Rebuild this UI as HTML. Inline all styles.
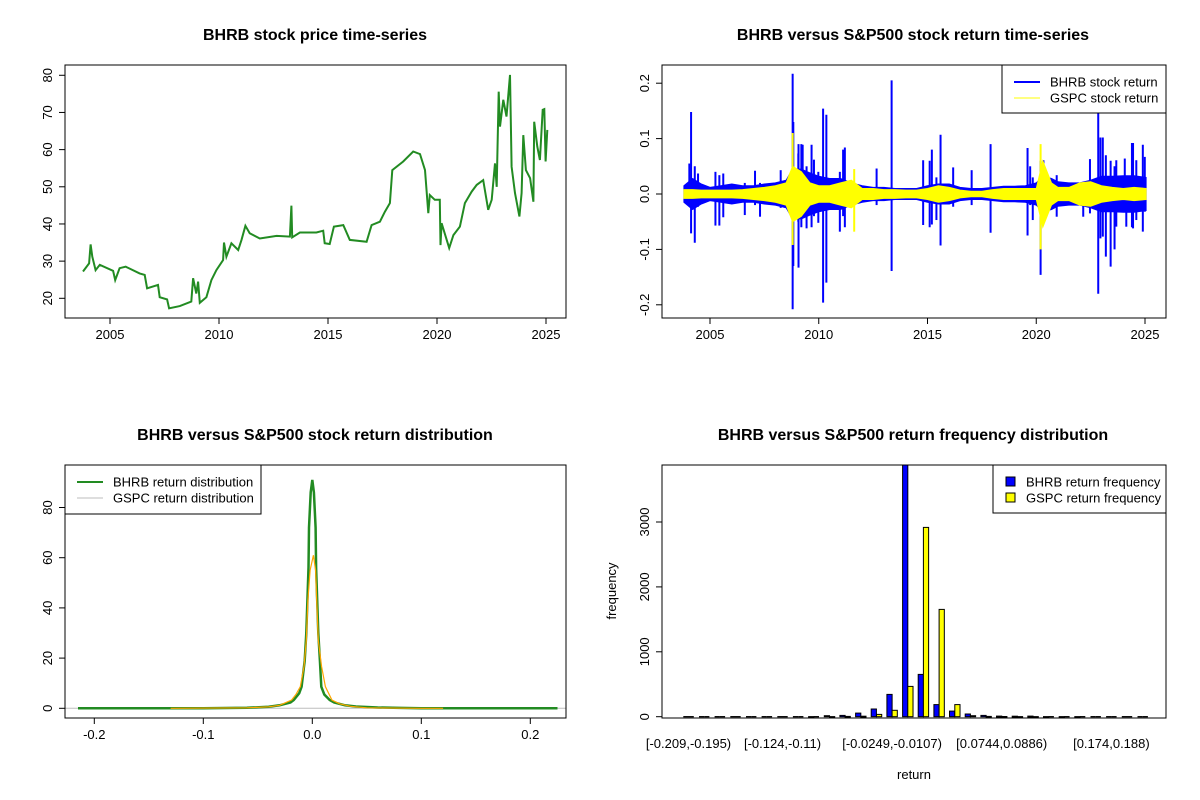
<!DOCTYPE html>
<html><head><meta charset="utf-8"><style>
html,body{margin:0;padding:0;background:#fff;}
svg{display:block;font-family:"Liberation Sans",Arial,sans-serif;}
.t{font-size:13px;fill:#000;}
.title{font-size:16px;font-weight:bold;fill:#000;}
</style></head><body>
<svg id="root" width="1200" height="800" viewBox="0 0 1200 800">
<g id="p1"></g>
<g id="p2"></g>
<g id="p3"></g>
<g id="p4"></g>
</svg>
<script>
// ---------- Panel 1 data: BHRB price ----------
const priceYears=[2003.76,2004.04,2004.11,2004.19,2004.34,2004.53,2005.14,2005.24,2005.44,2005.72,2006.36,2006.59,2006.70,2007.20,2007.28,2007.62,2007.71,2008.20,2008.73,2008.81,2008.96,2009.04,2009.12,2009.42,2009.65,2009.88,2010.19,2010.23,2010.34,2010.57,2010.88,2011.03,2011.21,2011.41,2011.87,2012.64,2013.25,2013.32,2013.36,2013.71,2014.47,2014.78,2014.85,2015.08,2015.27,2015.70,2016.00,2016.77,2017.00,2017.38,2017.61,2017.84,2017.95,2018.45,2018.91,2019.22,2019.45,2019.60,2019.67,2019.90,2020.13,2020.16,2020.21,2020.56,2020.75,2021.05,2021.28,2021.59,2021.82,2022.12,2022.35,2022.51,2022.66,2022.74,2022.83,2022.89,2023.04,2023.19,2023.35,2023.42,2023.58,2023.78,2023.88,2023.96,2024.08,2024.27,2024.42,2024.46,2024.60,2024.72,2024.85,2024.92,2024.98,2025.06];
const priceValues=[27.2,29.4,34.5,31.2,27.6,29,27.4,24.9,28.1,28.5,26.7,26.3,22.7,23.6,20.3,19.7,17.3,17.9,19.1,25.4,21.3,24.5,18.8,20.3,24.9,27.6,30.3,35,31.2,34.8,33,35.7,39.5,37.5,36.1,36.8,36.6,44.9,36.4,37.7,37.7,38.2,34.8,34.6,39.3,39.7,35.7,35.2,39.7,40.6,43.3,45.6,54.5,56.8,59.5,58.8,54.5,42.9,47.8,46.5,46.5,34.3,40.2,33.5,37,39.3,45.6,48.7,50.5,51.8,43.8,46.5,56.3,50,75.6,66.2,73.4,68.9,80.1,55.4,48.3,42,48.3,63.9,54.5,52.3,46,67.5,60.8,57.2,70.7,70.9,56.8,65.3];
const yearTicks=[2005,2010,2015,2020,2025];
const priceTicks=[20,30,40,50,60,70,80];

// ---------- Panel 2 data: returns ----------
const retYears=[2003.8,2004.2,2004.6,2005,2005.5,2006,2006.5,2007,2007.5,2008,2008.5,2008.8,2009.2,2009.6,2010,2010.5,2011,2011.5,2012,2012.5,2013,2013.5,2014,2014.5,2015,2015.5,2016,2016.5,2017,2017.5,2018,2018.5,2019,2019.5,2020,2020.3,2020.7,2021,2021.5,2022,2022.5,2023,2023.5,2024,2024.5,2025.05];
const blueHi=[0.015,0.028,0.018,0.012,0.015,0.018,0.015,0.015,0.018,0.02,0.025,0.045,0.045,0.038,0.032,0.028,0.028,0.02,0.015,0.012,0.012,0.01,0.01,0.01,0.015,0.018,0.018,0.012,0.01,0.01,0.012,0.014,0.014,0.015,0.02,0.032,0.028,0.022,0.02,0.02,0.025,0.032,0.032,0.033,0.033,0.03];
const blueLo=[-0.015,-0.028,-0.018,-0.012,-0.015,-0.018,-0.015,-0.015,-0.018,-0.02,-0.025,-0.045,-0.045,-0.038,-0.032,-0.028,-0.028,-0.02,-0.015,-0.012,-0.012,-0.01,-0.01,-0.01,-0.015,-0.018,-0.018,-0.012,-0.01,-0.01,-0.012,-0.014,-0.014,-0.015,-0.02,-0.032,-0.028,-0.022,-0.02,-0.02,-0.025,-0.032,-0.032,-0.033,-0.033,-0.03];
const yelHi=[0.008,0.008,0.007,0.007,0.007,0.007,0.008,0.01,0.012,0.015,0.02,0.05,0.04,0.02,0.015,0.015,0.02,0.025,0.01,0.01,0.008,0.008,0.007,0.007,0.01,0.015,0.012,0.007,0.005,0.005,0.008,0.01,0.01,0.01,0.01,0.06,0.02,0.012,0.012,0.02,0.022,0.015,0.012,0.01,0.012,0.01];
const yelLo=[-0.008,-0.008,-0.007,-0.007,-0.007,-0.007,-0.008,-0.01,-0.012,-0.015,-0.02,-0.05,-0.04,-0.02,-0.015,-0.015,-0.02,-0.025,-0.01,-0.01,-0.008,-0.008,-0.007,-0.007,-0.01,-0.015,-0.012,-0.007,-0.005,-0.005,-0.008,-0.01,-0.01,-0.01,-0.01,-0.06,-0.02,-0.012,-0.012,-0.02,-0.022,-0.015,-0.012,-0.01,-0.012,-0.01];
const spikeYears=[2004.13,2004.3,2005.25,2008.80,2008.83,2009.07,2009.2,2010.2,2010.35,2011.2,2013.35,2015.1,2015.2,2015.6,2017.9,2019.6,2020.2,2022.85,2022.95,2023.2,2023.42,2023.6,2024.4,2024.9,
2004.05,2004.45,2005.43,2005.61,2006.6,2007.07,2007.3,2008.25,2009.06,2009.26,2009.44,2009.67,2009.78,2009.98,2010.97,2011.12,2012.66,2014.8,2015.41,2016.18,2017.03,2019.72,2019.84,2020.33,2020.94,2022.16,2022.47,2023.06,2023.68,2024.07,2024.14,2024.45,2024.6,2024.99];
const spikeHi=[0.148,0.05,0.04,0.217,0.13,0.09,0.09,0.154,0.143,0.084,0.205,0.06,0.08,0.107,0.09,0.083,0.06,0.146,0.102,0.07,0.06,0.05,0.092,0.089,
0.055,0.037,0.034,0.037,0.02,0.042,0.02,0.043,0.073,0.089,0.05,0.089,0.062,0.04,0.04,0.08,0.046,0.061,0.03,0.048,0.043,0.05,0.03,0.061,0.034,0.02,0.063,0.102,0.061,0.064,0.03,0.092,0.061,0.067];
const spikeLo=[-0.071,-0.088,-0.057,-0.208,-0.13,-0.133,-0.06,-0.196,-0.16,-0.06,-0.139,-0.06,-0.055,-0.093,-0.07,-0.075,-0.146,-0.18,-0.08,-0.113,-0.131,-0.1,-0.06,-0.068,
-0.02,-0.023,-0.057,-0.042,-0.038,-0.02,-0.041,-0.025,-0.05,-0.04,-0.062,-0.06,-0.04,-0.052,-0.068,-0.04,-0.02,-0.056,-0.047,-0.023,-0.02,-0.02,-0.047,-0.041,-0.041,-0.041,-0.035,-0.077,-0.059,-0.03,-0.059,-0.062,-0.047,-0.032];
const ySpikeYears=[2008.8,2011.63,2020.2];
const ySpikeHi=[0.11,0.045,0.09];
const ySpikeLo=[-0.092,-0.068,-0.1];
const retTicks=[-0.2,-0.1,0.0,0.1,0.2];

// ---------- Panel 3 data: densities ----------
const bhrbDensX=[-0.215,-0.1,-0.06,-0.04,-0.03,-0.02,-0.017,-0.012,-0.0098,-0.007,-0.0055,-0.0035,-0.003,-0.0015,0,0.0015,0.003,0.0035,0.0055,0.007,0.0083,0.011,0.016,0.02,0.03,0.04,0.06,0.08,0.1,0.225];
const bhrbDensY=[0,0,0.2,0.6,1.2,2.3,3.3,6,8.6,19,30,56,72,86,91,86,72,56,30,19,8.6,5.5,3.3,2.3,1.2,0.7,0.3,0.15,0,0];
const gspcDensX=[-0.13,-0.06,-0.04,-0.03,-0.019,-0.015,-0.011,-0.0076,-0.0055,-0.004,-0.002,0.001,0.003,0.004,0.0055,0.0085,0.012,0.018,0.025,0.035,0.05,0.1,0.12];
const gspcDensY=[0,0.2,0.6,1.2,3.3,5.5,8.6,16.6,27,43,55,61,55,43,27,16.6,8.6,3.3,1.8,0.8,0.2,0,0];
const densXTicks=[-0.2,-0.1,0.0,0.1,0.2];
const densYTicks=[0,20,40,60,80];

// ---------- Panel 4 data: histogram ----------
const binLabels=["[-0.209,-0.195)","[-0.124,-0.11)","[-0.0249,-0.0107)","[0.0744,0.0886)","[0.174,0.188)"];
const binLabelIdx=[0,6,13,20,27];
const bhrbFreq=[0,0,0,0,0,0,0,0,2,15,20,56,118,344,3950,652,186,87,41,20,10,8,10,2,1,1,0,0,0,0];
const gspcFreq=[0,0,0,0,0,0,0,0,0,1,5,8,36,98,467,2917,1654,186,15,5,3,2,1,0,0,0,0,0,0,0];
const freqTicks=[0,1000,2000,3000];

const NS="http://www.w3.org/2000/svg";
function mk(parent,tag,attrs,text){const e=document.createElementNS(NS,tag);for(const k in attrs)e.setAttribute(k,attrs[k]);if(text!==undefined)e.textContent=text;parent.appendChild(e);return e;}
function box(g,x0,y0,x1,y1){const r=mk(g,'rect',{x:x0,y:y0,width:x1-x0,height:y1-y0,fill:'none',stroke:'#000','stroke-width':1});}
function xAxis(g,ticks,sx,yb,fmt){ticks.forEach(t=>{const x=sx(t);const l=mk(g,'line',{x1:x,x2:x,y1:yb,y2:yb+6,stroke:'#000'});const tx=mk(g,'text',{x:x,y:yb+21,'text-anchor':'middle',class:'t'},fmt?fmt(t):t);});const a=mk(g,'line',{x1:sx(ticks[0]),x2:sx(ticks[ticks.length-1]),y1:yb,y2:yb,stroke:'#000'});}
function yAxis(g,ticks,sy,xl,fmt){ticks.forEach(t=>{const y=sy(t);const l=mk(g,'line',{x1:xl-6,x2:xl,y1:y,y2:y,stroke:'#000'});const tx=mk(g,'text',{x:xl-13,y:y,'text-anchor':'middle',class:'t',transform:`rotate(-90 ${xl-13} ${y})`},fmt?fmt(t):t);});const a=mk(g,'line',{x1:xl,x2:xl,y1:sy(ticks[0]),y2:sy(ticks[ticks.length-1]),stroke:'#000'});}
function title(g,x,y,s){const t=mk(g,'text',{x:x,y:y,'text-anchor':'middle',class:'title'},s);}
function clip(id,x0,y0,x1,y1){const root=document.getElementById('root');const c=mk(root,'clipPath',{id:id});mk(c,'rect',{x:x0,y:y0,width:x1-x0,height:y1-y0});}

// ---- Panel 1
(function(){const g=document.getElementById('p1');
const sx=v=>110+(v-2005)*21.8, sy=v=>298.3-(v-20)*3.717;
title(g,315,40,'BHRB stock price time-series');
const pts=priceYears.map((y,i)=>sx(y).toFixed(1)+','+sy(priceValues[i]).toFixed(1)).join(' ');
const pl=mk(g,'polyline',{points:pts,fill:'none',stroke:'#228B22','stroke-width':2});

box(g,65,65,566,318);xAxis(g,yearTicks,sx,318);yAxis(g,priceTicks,sy,65);})();

// ---- Panel 2
(function(){const g=document.getElementById('p2');
const sx=v=>710+(v-2005)*21.75, sy=v=>194-v*554;
clip('c2',662,65,1166,318);
title(g,913,40,'BHRB versus S&P500 stock return time-series');
const inner=mk(g,'g',{'clip-path':'url(#c2)'});
function band(hi,lo,col,name){const up=retYears.map((y,i)=>sx(y).toFixed(1)+','+sy(hi[i]).toFixed(1));const dn=retYears.map((y,i)=>sx(y).toFixed(1)+','+sy(lo[i]).toFixed(1)).reverse();const p=mk(inner,'polygon',{points:up.concat(dn).join(' '),fill:col,stroke:col,'stroke-width':1});}
band(blueHi,blueLo,'#0000FF','bhrb-return-band');
spikeYears.forEach((y,i)=>{const l=mk(inner,'line',{x1:sx(y),x2:sx(y),y1:sy(spikeHi[i]),y2:sy(spikeLo[i]),stroke:'#0000FF','stroke-width':2});});
band(yelHi,yelLo,'#FFFF00','gspc-return-band');
ySpikeYears.forEach((y,i)=>{const l=mk(inner,'line',{x1:sx(y),x2:sx(y),y1:sy(ySpikeHi[i]),y2:sy(ySpikeLo[i]),stroke:'#FFFF00','stroke-width':2});});
box(g,662,65,1166,318);xAxis(g,yearTicks,sx,318);yAxis(g,retTicks,sy,662,v=>v.toFixed(1));
const lg=mk(g,'g',{});
mk(lg,'rect',{x:1002,y:65,width:164,height:48,fill:'#fff',stroke:'#000'});
mk(lg,'line',{x1:1014,x2:1040,y1:82,y2:82,stroke:'#0000FF','stroke-width':2});
mk(lg,'text',{x:1050,y:86.5,class:'t'},'BHRB stock return');
mk(lg,'line',{x1:1014,x2:1040,y1:98,y2:98,stroke:'#FFFF00','stroke-width':1});
mk(lg,'text',{x:1050,y:102.5,class:'t'},'GSPC stock return');})();

// ---- Panel 3
(function(){const g=document.getElementById('p3');
const sx=v=>312.3+v*1090, sy=v=>708.3-v*2.51;
title(g,315,440,'BHRB versus S&P500 stock return distribution');
const base=mk(g,'line',{x1:65,x2:566,y1:sy(0),y2:sy(0),stroke:'#BEBEBE','stroke-width':1});
const g1=mk(g,'polyline',{points:bhrbDensX.map((x,i)=>sx(x).toFixed(1)+','+sy(bhrbDensY[i]).toFixed(1)).join(' '),fill:'none',stroke:'#228B22','stroke-width':2.5});

const g2=mk(g,'polyline',{points:gspcDensX.map((x,i)=>sx(x).toFixed(1)+','+sy(gspcDensY[i]).toFixed(1)).join(' '),fill:'none',stroke:'#FFA500','stroke-width':1.2});

box(g,65,465,566,718);xAxis(g,densXTicks,sx,718,v=>v.toFixed(1));yAxis(g,densYTicks,sy,65);
const lg=mk(g,'g',{});
mk(lg,'rect',{x:65,y:465,width:196,height:49,fill:'#fff',stroke:'#000'});
mk(lg,'line',{x1:77,x2:103,y1:482,y2:482,stroke:'#228B22','stroke-width':2});
mk(lg,'text',{x:113,y:486.5,class:'t'},'BHRB return distribution');
mk(lg,'line',{x1:77,x2:103,y1:498,y2:498,stroke:'#BEBEBE','stroke-width':1});
mk(lg,'text',{x:113,y:502.5,class:'t'},'GSPC return distribution');})();

// ---- Panel 4
(function(){const g=document.getElementById('p4');
const u=5.22, x0=678.1;
const sy=v=>716.7-v*0.0649;
clip('c4',662,465,1166,718);
title(g,913,440,'BHRB versus S&P500 return frequency distribution');
const inner=mk(g,'g',{'clip-path':'url(#c4)'});
function bar(xb,v,col,name){
 if(v<=0){const l=mk(inner,'line',{x1:xb.toFixed(1),x2:(xb+u).toFixed(1),y1:sy(0),y2:sy(0),stroke:'#000','stroke-width':1.3});return;}
 const b=mk(inner,'rect',{x:xb.toFixed(1),y:sy(v).toFixed(1),width:u.toFixed(2),height:Math.max(1,sy(0)-sy(v)).toFixed(1),fill:col,stroke:'#000','stroke-width':1});
 }
bhrbFreq.forEach((v,i)=>{const xb=x0+(3*i+1)*u;
bar(xb,v,'#0000FF','bhrb-frequency-bar');
bar(xb+u,gspcFreq[i],'#FFFF00','gspc-frequency-bar');});
box(g,662,465,1166,718);yAxis(g,freqTicks,sy,662);
binLabelIdx.forEach((idx,k)=>{const t=mk(g,'text',{x:(x0+(3*idx+2)*u).toFixed(1),y:748,'text-anchor':'middle',class:'t'},binLabels[k]);});
const xl=mk(g,'text',{x:914,y:779,'text-anchor':'middle',class:'t'},'return');
const yl=mk(g,'text',{x:616,y:591,'text-anchor':'middle',class:'t',transform:'rotate(-90 616 591)'},'frequency');
const lg=mk(g,'g',{});
mk(lg,'rect',{x:993,y:465,width:173,height:48,fill:'#fff',stroke:'#000'});
mk(lg,'rect',{x:1006,y:477,width:9,height:9,fill:'#0000FF',stroke:'#000'});
mk(lg,'text',{x:1026,y:486.5,class:'t'},'BHRB return frequency');
mk(lg,'rect',{x:1006,y:493,width:9,height:9,fill:'#FFFF00',stroke:'#000'});
mk(lg,'text',{x:1026,y:502.5,class:'t'},'GSPC return frequency');})();
</script>
</body></html>
